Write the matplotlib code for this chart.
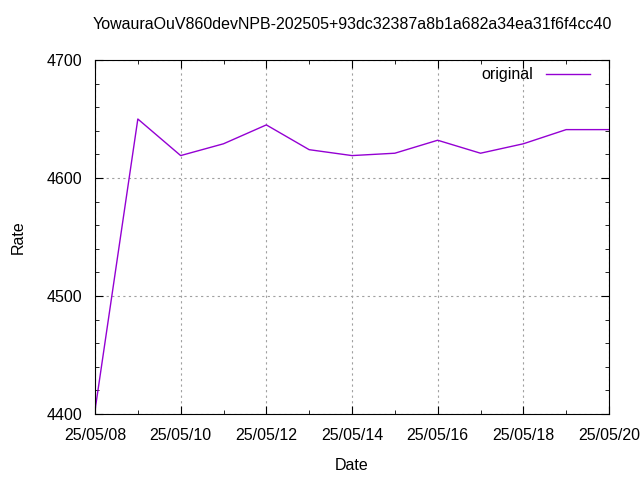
import datetime as dt
import matplotlib
matplotlib.use("Agg")
import matplotlib.pyplot as plt
import matplotlib.dates as mdates
from matplotlib.ticker import MultipleLocator

plt.rcParams['font.family'] = ['Liberation Sans', 'DejaVu Sans']
plt.rcParams['font.size'] = 11.5

# data
days = [dt.datetime(2025, 5, d) for d in range(8, 21)]
rate = [4403, 4650, 4619, 4629, 4645, 4624, 4619, 4621, 4632, 4621, 4629, 4641, 4641]
title = "YowauraOuV860devNPB-202505+93dc32387a8b1a682a34ea31f6f4cc40"

fig = plt.figure(figsize=(6.4, 4.8), dpi=100)
ax = fig.add_axes([95/640, 1 - 414/480, (609-95)/640, (414-60)/480])

ax.plot(days, rate, color='#9400d3', lw=1, label='original')

ax.set_xlim(days[0], days[-1])
ax.set_ylim(4400, 4700)
ax.xaxis.set_major_locator(mdates.DayLocator(interval=2))
ax.xaxis.set_minor_locator(mdates.DayLocator())
ax.xaxis.set_major_formatter(mdates.DateFormatter('%y/%m/%d'))
ax.yaxis.set_major_locator(MultipleLocator(100))
ax.yaxis.set_minor_locator(MultipleLocator(20))
ax.tick_params(which='both', direction='in', top=True, right=True, labelsize=11.5)
ax.tick_params(axis='x', pad=10)
ax.tick_params(axis='y', pad=9)
ax.tick_params(which='major', length=6)
ax.tick_params(which='minor', length=3)

ax.grid(True, which='major', color='#a0a0a0', linestyle=(0, (2, 3)), lw=0.8)

ax.set_title(title, fontsize=11.5, pad=22)
ax.set_xlabel('Date', labelpad=11)
ax.set_ylabel('Rate', labelpad=15)

ax.legend(loc='upper right', bbox_to_anchor=(0.973, 0.993), frameon=False,
          markerfirst=False, handlelength=2.8, handletextpad=0.8,
          fontsize=11.5, borderaxespad=0, borderpad=0.3)

fig.savefig('out.png', dpi=100)
